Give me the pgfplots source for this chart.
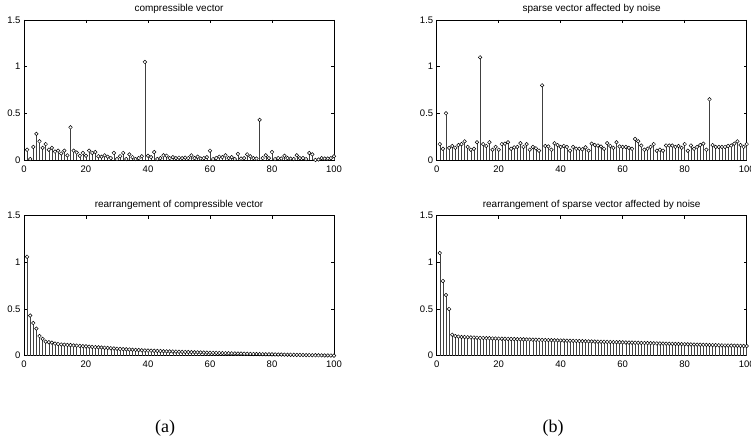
\documentclass[border=0pt]{standalone}
\usepackage{fontspec}
\setmainfont{Liberation Sans}
\newfontfamily\seriffont{Liberation Serif}
\usepackage{pgfplots}
\usepackage{pgfplotstable}
\pgfplotsset{compat=1.18}

\pgfplotstableread[row sep=\\]{y\\
0.11\\0.01\\0.14\\0.28\\0.20\\0.13\\0.17\\0.11\\0.13\\0.09\\
0.10\\0.07\\0.10\\0.05\\0.35\\0.10\\0.08\\0.045\\0.075\\0.045\\
0.10\\0.075\\0.085\\0.04\\0.035\\0.05\\0.035\\0.02\\0.075\\0.01\\
0.04\\0.075\\0.01\\0.06\\0.03\\0.01\\0.02\\0.04\\1.05\\0.045\\
0.03\\0.085\\0.01\\0.02\\0.05\\0.045\\0.02\\0.03\\0.02\\0.025\\
0.02\\0.025\\0.02\\0.05\\0.02\\0.035\\0.015\\0.02\\0.03\\0.10\\
0.01\\0.02\\0.035\\0.03\\0.05\\0.02\\0.03\\0.01\\0.065\\0.015\\
0.02\\0.06\\0.04\\0.02\\0.015\\0.43\\0.02\\0.05\\0.02\\0.085\\
0.01\\0.02\\0.015\\0.045\\0.02\\0.015\\0.01\\0.05\\0.02\\0.02\\
0.01\\0.075\\0.06\\0.00\\0.005\\0.02\\0.015\\0.015\\0.02\\0.04\\
}\compressible

\pgfplotstableread[row sep=\\]{y\\
0.17\\0.12\\0.50\\0.13\\0.15\\0.13\\0.16\\0.17\\0.20\\0.14\\
0.11\\0.12\\0.19\\1.10\\0.17\\0.15\\0.19\\0.11\\0.14\\0.11\\
0.17\\0.175\\0.19\\0.12\\0.135\\0.14\\0.18\\0.14\\0.17\\0.11\\
0.14\\0.125\\0.10\\0.80\\0.15\\0.145\\0.11\\0.18\\0.16\\0.14\\
0.15\\0.14\\0.10\\0.14\\0.12\\0.12\\0.115\\0.135\\0.10\\0.175\\
0.16\\0.155\\0.145\\0.12\\0.18\\0.15\\0.13\\0.19\\0.145\\0.14\\
0.14\\0.13\\0.12\\0.225\\0.20\\0.155\\0.11\\0.12\\0.14\\0.17\\
0.10\\0.11\\0.10\\0.155\\0.155\\0.155\\0.14\\0.15\\0.13\\0.17\\
0.10\\0.155\\0.12\\0.14\\0.16\\0.175\\0.11\\0.65\\0.16\\0.14\\
0.14\\0.14\\0.14\\0.15\\0.155\\0.175\\0.20\\0.16\\0.14\\0.17\\
}\sparsenoise

\pgfplotstableread[row sep=\\]{y\\
1.06\\0.43\\0.35\\0.29\\0.21\\0.18\\0.15\\0.145\\0.14\\0.13\\
0.125\\0.12\\0.118\\0.115\\0.113\\0.11\\0.108\\0.105\\0.102\\0.10\\
0.097\\0.094\\0.092\\0.09\\0.088\\0.085\\0.083\\0.08\\0.078\\0.075\\
0.072\\0.07\\0.068\\0.066\\0.064\\0.062\\0.06\\0.058\\0.056\\0.055\\
0.054\\0.052\\0.051\\0.05\\0.048\\0.047\\0.046\\0.045\\0.044\\0.042\\
0.041\\0.04\\0.039\\0.038\\0.037\\0.036\\0.035\\0.034\\0.033\\0.032\\
0.031\\0.03\\0.029\\0.028\\0.027\\0.026\\0.025\\0.024\\0.023\\0.022\\
0.021\\0.02\\0.019\\0.018\\0.018\\0.017\\0.016\\0.015\\0.015\\0.014\\
0.013\\0.012\\0.012\\0.011\\0.01\\0.01\\0.009\\0.008\\0.008\\0.007\\
0.006\\0.006\\0.005\\0.005\\0.004\\0.004\\0.003\\0.003\\0.002\\0.001\\
}\compsorted

\pgfplotstableread[row sep=\\]{y\\
1.10\\0.80\\0.65\\0.50\\0.225\\0.21\\0.205\\0.20\\0.20\\0.198\\
0.196\\0.195\\0.193\\0.19\\0.19\\0.188\\0.187\\0.185\\0.184\\0.183\\
0.182\\0.181\\0.18\\0.179\\0.178\\0.177\\0.176\\0.175\\0.174\\0.173\\
0.172\\0.171\\0.17\\0.169\\0.168\\0.167\\0.166\\0.165\\0.164\\0.163\\
0.162\\0.161\\0.16\\0.159\\0.158\\0.157\\0.156\\0.155\\0.154\\0.153\\
0.152\\0.151\\0.15\\0.149\\0.148\\0.147\\0.146\\0.145\\0.144\\0.143\\
0.142\\0.141\\0.14\\0.139\\0.138\\0.137\\0.136\\0.135\\0.134\\0.133\\
0.132\\0.131\\0.13\\0.129\\0.128\\0.127\\0.126\\0.125\\0.124\\0.123\\
0.122\\0.121\\0.12\\0.119\\0.118\\0.117\\0.116\\0.115\\0.114\\0.113\\
0.112\\0.111\\0.11\\0.109\\0.108\\0.107\\0.106\\0.105\\0.104\\0.103\\
}\sparsesorted

\pgfplotsset{stemax/.style={
  scale only axis, width=310pt, height=140pt, anchor=south west,
  xmin=0, xmax=100, ymin=0, ymax=1.5,
  xtick={0,20,...,100}, ytick={0,0.5,1,1.5},
  tick align=inside, major tick length=3pt,
  tick style={black, line width=0.5pt},
  axis line style={black, line width=0.8pt},
  ticklabel style={font=\fontsize{9.5}{10}\selectfont},
  xticklabel style={yshift=-2pt},
  /pgf/number format/assume math mode=true,
  every axis title shift=0pt,
  title style={font=\fontsize{10}{12}\selectfont, at={(0.5,1)}, anchor=base, yshift=8pt},
  clip=false,
}}
\pgfplotsset{stemplot/.style={ycomb, black!75, line width=0.5pt, mark=*, mark size=1.8pt,
  mark options={draw=black, fill=white, line width=0.5pt}}}

\begin{document}
\begin{tikzpicture}[x=1pt,y=1pt]
\useasboundingbox (0,0) rectangle (751,443);
\begin{axis}[stemax, at={(24pt,283pt)}, title={compressible vector}]
\addplot[stemplot] table[x expr=\coordindex+1, y=y]{\compressible};
\end{axis}
\begin{axis}[stemax, at={(436.7pt,283pt)}, title={sparse vector affected by noise}]
\addplot[stemplot] table[x expr=\coordindex+1, y=y]{\sparsenoise};
\end{axis}
\begin{axis}[stemax, at={(24pt,87.3pt)}, title={rearrangement of compressible vector}]
\addplot[stemplot] table[x expr=\coordindex+1, y=y]{\compsorted};
\end{axis}
\begin{axis}[stemax, at={(436.7pt,87.3pt)}, title={rearrangement of sparse vector affected by noise}]
\addplot[stemplot] table[x expr=\coordindex+1, y=y]{\sparsesorted};
\end{axis}
\node[font=\seriffont\fontsize{18}{20}\selectfont] at (165pt,15pt) {(a)};
\node[font=\seriffont\fontsize{18}{20}\selectfont] at (553pt,15pt) {(b)};
\end{tikzpicture}
\end{document}
